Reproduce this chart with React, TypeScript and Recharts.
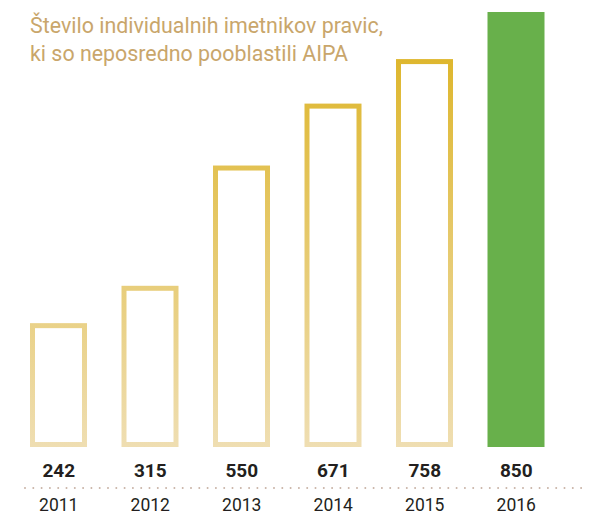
import React from "react";
import { BarChart, Bar, XAxis, YAxis, Cell } from "recharts";

const years = ["2011", "2012", "2013", "2014", "2015", "2016"];
const holders = [242, 315, 550, 671, 758, 850];
const titleLines = ["Število individualnih imetnikov pravic,", "ki so neposredno pooblastili AIPA"];

const data = years.map((y, i) => ({ year: y, value: holders[i] }));

const W = 597;
const H = 516;
const PLOT_TOP = 12;
const AXIS_H = 69;
const FONT = "Roboto, 'Noto Sans', sans-serif";

// outlined bar: stroke sits fully inside the bar box
function OutlineBar(props: any) {
  const { x, y, width, height, index } = props;
  if (index === holders.length - 1) {
    return <rect x={x} y={y} width={width} height={height} fill="#68B04B" />;
  }
  const sw = 5;
  return (
    <rect
      x={x + sw / 2}
      y={y + sw / 2}
      width={width - sw}
      height={height - sw}
      fill="none"
      stroke="url(#goldGrad)"
      strokeWidth={sw}
    />
  );
}

function YearTick(props: any) {
  const { x, y, payload, index } = props;
  return (
    <g>
      {index === 0 && (
        <line
          x1={25}
          x2={586}
          y1={y + 33}
          y2={y + 33}
          stroke="#C9B3A6"
          strokeWidth={2}
          strokeLinecap="round"
          strokeDasharray="0 8.3"
        />
      )}
      <text x={x} y={y + 22} textAnchor="middle" fontFamily={FONT} fontSize={19} fontWeight={700} fill="#231F20">
        {holders[index]}
      </text>
      <text x={x} y={y + 56} textAnchor="middle" fontFamily={FONT} fontSize={17.5} fill="#231F20">
        {payload.value}
      </text>
    </g>
  );
}

export default function App() {
  return (
    <div style={{ position: "absolute", left: 0, top: 0, width: W, height: H, background: "#fff" }}>
      <div
        style={{
          position: "absolute",
          left: 30,
          top: 12,
          fontFamily: FONT,
          fontSize: 21.4,
          lineHeight: "28px",
          color: "#C9A66B",
          zIndex: 1,
        }}
      >
        {titleLines.map((t) => (
          <div key={t}>{t}</div>
        ))}
      </div>
      <BarChart width={W} height={H} data={data} margin={{ top: PLOT_TOP, right: 35, bottom: 0, left: 13 }} barSize={57}>
        <defs>
          <linearGradient id="goldGrad" gradientUnits="userSpaceOnUse" x1={0} y1={PLOT_TOP} x2={0} y2={H - AXIS_H}>
            <stop offset="0%" stopColor="#DCB21E" />
            <stop offset="100%" stopColor="#EFDEB2" />
          </linearGradient>
        </defs>
        <XAxis dataKey="year" axisLine={false} tickLine={false} height={AXIS_H} tick={<YearTick />} interval={0} />
        <YAxis hide domain={[0, 850]} />
        <Bar dataKey="value" shape={<OutlineBar />} isAnimationActive={false}>
          {data.map((d) => (
            <Cell key={d.year} />
          ))}
        </Bar>
      </BarChart>
    </div>
  );
}
